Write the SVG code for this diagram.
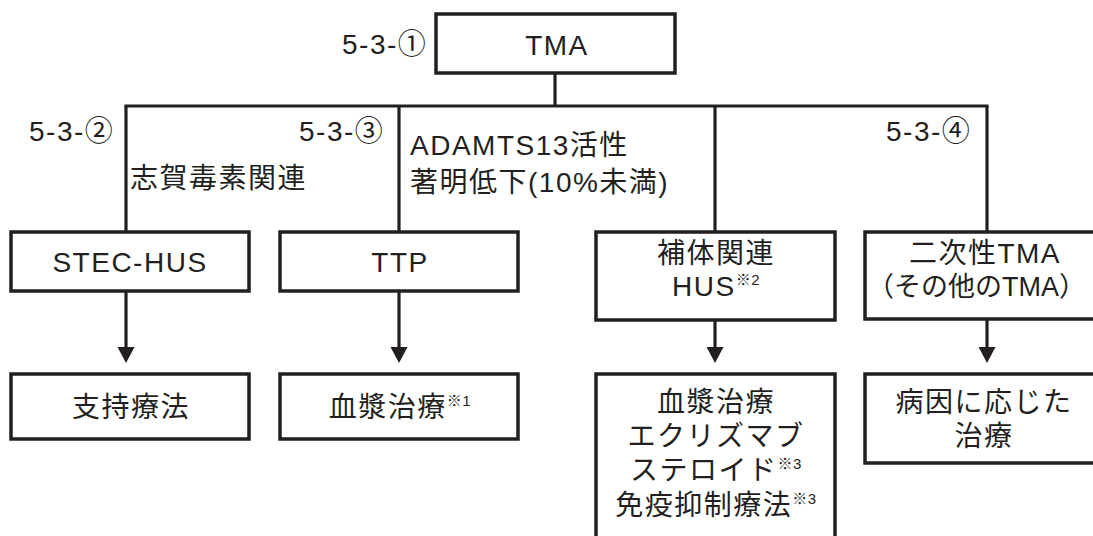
<svg xmlns="http://www.w3.org/2000/svg" width="1093" height="536" viewBox="0 0 1093 536">
<defs>
<style>
.box{fill:#fff;stroke:#231f20;stroke-width:3.5}
.ln{fill:none;stroke:#231f20;stroke-width:3.2}
.ah{fill:#231f20;stroke:none}
text{font-family:"Liberation Sans","Noto Sans CJK JP",sans-serif;font-size:28px;fill:#231f20;letter-spacing:1.5px}
.c{text-anchor:middle}
.sup{font-size:15px;letter-spacing:0.5px}
.tight{font-size:27px;letter-spacing:0}
</style>
</defs>
<rect width="1093" height="536" fill="#fff"/>
<g id="connectors">
<line class="ln" x1="555" y1="73" x2="555" y2="106"/>
<line class="ln" x1="124.5" y1="106" x2="988.5" y2="106"/>
<line class="ln" x1="126" y1="106" x2="126" y2="232"/>
<line class="ln" x1="399" y1="106" x2="399" y2="232"/>
<line class="ln" x1="715" y1="106" x2="715" y2="232"/>
<line class="ln" x1="987" y1="106" x2="987" y2="232"/>
<line class="ln" x1="126" y1="291" x2="126" y2="350"/>
<polygon class="ah" points="117.5,347 134.5,347 126,363"/>
<line class="ln" x1="399" y1="291" x2="399" y2="350"/>
<polygon class="ah" points="390.5,347 407.5,347 399,363"/>
<line class="ln" x1="715" y1="320" x2="715" y2="350"/>
<polygon class="ah" points="706.5,347 723.5,347 715,363"/>
<line class="ln" x1="987" y1="319" x2="987" y2="350"/>
<polygon class="ah" points="978.5,347 995.5,347 987,363"/>
</g>
<g id="labels">
<text x="342" y="54">5-3-①</text>
<text x="29" y="141">5-3-②</text>
<text x="299" y="141">5-3-③</text>
<text x="886" y="141">5-3-④</text>
<text x="130" y="188">志賀毒素関連</text>
<text x="410" y="155">ADAMTS13活性</text>
<text x="410" y="192">著明低下(10%未満)</text>
</g>
<g id="n-tma">
<rect class="box" x="436" y="14" width="239" height="59"/>
<text class="c" x="557" y="55">TMA</text>
</g>
<g id="n-stec">
<rect class="box" x="11" y="232" width="238" height="59"/>
<text class="c" x="130" y="272">STEC-HUS</text>
</g>
<g id="n-ttp">
<rect class="box" x="280" y="232" width="238" height="59"/>
<text class="c" x="400" y="272">TTP</text>
</g>
<g id="n-complement">
<rect class="box" x="596" y="232" width="239" height="88"/>
<text class="c" x="716" y="263">補体関連</text>
<text class="c" x="716" y="296">HUS<tspan class="sup" dy="-11">※2</tspan></text>
</g>
<g id="n-secondary">
<rect class="box" x="865" y="232" width="240" height="87"/>
<text class="c" x="985" y="263">二次性TMA</text>
<text class="tight" x="867" y="296">（その他のTMA）</text>
</g>
<g id="n-support">
<rect class="box" x="11" y="374" width="238" height="65"/>
<text class="c" x="131" y="417">支持療法</text>
</g>
<g id="n-plasma">
<rect class="box" x="280" y="374" width="238" height="65"/>
<text class="c" x="400" y="417">血漿治療<tspan class="sup" dy="-11">※1</tspan></text>
</g>
<g id="n-complement-tx">
<rect class="box" x="596" y="374" width="239" height="175"/>
<text class="c" x="716" y="412">血漿治療</text>
<text class="c" x="716" y="446">エクリズマブ</text>
<text class="c" x="716" y="480">ステロイド<tspan class="sup" dy="-11">※3</tspan></text>
<text class="c" x="716" y="515">免疫抑制療法<tspan class="sup" dy="-11">※3</tspan></text>
</g>
<g id="n-secondary-tx">
<rect class="box" x="865" y="374" width="240" height="89"/>
<text class="c" x="984" y="412">病因に応じた</text>
<text class="c" x="984" y="446">治療</text>
</g>
</svg>
